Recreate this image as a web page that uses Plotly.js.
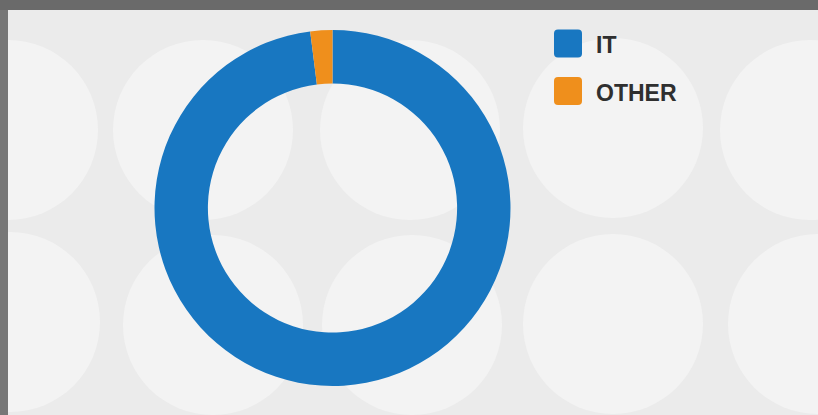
<!DOCTYPE html>
<html>
<head>
<meta charset="utf-8">
<script src="https://cdn.plot.ly/plotly-3.0.1.min.js"></script>
<style>html,body{margin:0;padding:0;overflow:hidden;background:#6e6e6e;}#chart{width:818px;height:415px;}</style>
</head>
<body>
<div id="chart"></div>
<script>
// Data
const labels = ['IT', 'OTHER'];
const values = [98, 2];
const colors = ['#1877c1', '#ef8f1c'];

// Decorative background circles (centres in px)
const bgCircles = [
  [8,130],[203,130],[410,130],[613,128],[810,130],
  [10,322],[213,325],[412,325],[613,324],[818,324]
];
const W = 818, H = 415;
const shapes = [];
// light panel
shapes.push({type:'rect', xref:'paper', yref:'paper', x0:8/W, x1:1, y0:0, y1:1-10/H,
  fillcolor:'#ebebeb', line:{width:0}, layer:'below'});
bgCircles.forEach(c => {
  const r = 90;
  shapes.push({type:'circle', xref:'paper', yref:'paper',
    x0:(c[0]-r)/W, x1:(c[0]+r)/W,
    y0:1-(c[1]+r)/H, y1:1-(c[1]-r)/H,
    fillcolor:'#f3f3f3', line:{width:0}, layer:'below'});
});
// dark border strips (drawn after circles so they cover overflow)
shapes.push({type:'rect', xref:'paper', yref:'paper', x0:-0.05, x1:8/W, y0:-0.05, y1:1.05,
  fillcolor:'#777777', line:{width:0}, layer:'below'});
shapes.push({type:'rect', xref:'paper', yref:'paper', x0:-0.05, x1:1.05, y0:1-10/H, y1:1.05,
  fillcolor:'#6a6a6a', line:{width:0}, layer:'below'});

// custom legend
const annotations = [];
function roundRect(x0, y0, x1, y1, r) {
  // pixel coords -> paper path
  const px = x => (x / W).toFixed(5), py = y => (1 - y / H).toFixed(5);
  return 'M' + px(x0 + r) + ',' + py(y0) + ' L' + px(x1 - r) + ',' + py(y0) +
    ' Q' + px(x1) + ',' + py(y0) + ' ' + px(x1) + ',' + py(y0 + r) +
    ' L' + px(x1) + ',' + py(y1 - r) +
    ' Q' + px(x1) + ',' + py(y1) + ' ' + px(x1 - r) + ',' + py(y1) +
    ' L' + px(x0 + r) + ',' + py(y1) +
    ' Q' + px(x0) + ',' + py(y1) + ' ' + px(x0) + ',' + py(y1 - r) +
    ' L' + px(x0) + ',' + py(y0 + r) +
    ' Q' + px(x0) + ',' + py(y0) + ' ' + px(x0 + r) + ',' + py(y0) + ' Z';
}
labels.forEach((lab, i) => {
  const cy = 43.5 + i*47.5;
  shapes.push({type:'path', xref:'paper', yref:'paper',
    path: roundRect(554, cy-14, 582, cy+14, 4),
    fillcolor:colors[i], line:{width:0}, layer:'above'});
  annotations.push({xref:'paper', yref:'paper', x:594/W, y:1-(cy+1.5)/H,
    xanchor:'left', yanchor:'middle', showarrow:false, text:'<b>'+lab+'</b>',
    font:{family:'Liberation Sans, Arial, sans-serif', size:23, color:'#2f2f2f'}});
});

const trace = {
  type:'pie', labels:labels, values:values, hole:0.70,
  marker:{colors:colors, line:{width:0}},
  sort:false, direction:'clockwise', rotation:0,
  textinfo:'none', hoverinfo:'label+percent',
  domain:{x:[(332.5-178)/W, (332.5+178)/W], y:[(H-386)/H, (H-30)/H]}
};

const layout = {
  width:W, height:H, margin:{l:0,r:0,t:0,b:0},
  paper_bgcolor:'#6e6e6e', showlegend:false,
  shapes:shapes, annotations:annotations
};
Plotly.newPlot('chart', [trace], layout, {displayModeBar:false, staticPlot:true});
</script>
</body>
</html>
